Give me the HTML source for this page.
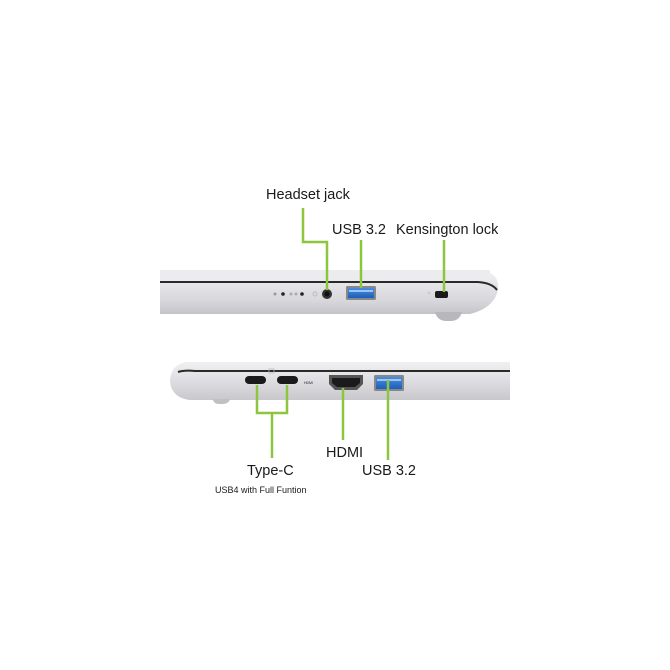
<!DOCTYPE html>
<html><head><meta charset="utf-8"><style>
html,body{margin:0;padding:0;background:#fff;}
svg{display:block}
text{font-family:"Liberation Sans",sans-serif;fill:#1a1a1a}
</style></head><body>
<svg width="670" height="670" viewBox="0 0 670 670" xmlns="http://www.w3.org/2000/svg">
<defs>
<linearGradient id="body1" x1="0" y1="0" x2="0" y2="1">
<stop offset="0" stop-color="#f4f4f6"/><stop offset="0.35" stop-color="#e4e4e8"/><stop offset="0.7" stop-color="#d8d8dc"/><stop offset="1" stop-color="#c4c4c8"/>
</linearGradient>
<linearGradient id="body2" x1="0" y1="0" x2="0" y2="1">
<stop offset="0" stop-color="#f0f0f2"/><stop offset="0.5" stop-color="#dedee2"/><stop offset="1" stop-color="#c8c8cc"/>
</linearGradient>
<linearGradient id="usb" x1="0" y1="0" x2="0" y2="1">
<stop offset="0" stop-color="#4a8de0"/><stop offset="1" stop-color="#1d5fb8"/>
</linearGradient>
</defs>

<path d="M160 270 L480 270 Q500 272 498 290 Q494 308 470 314 L160 314 Z" fill="url(#body1)"/>
<rect x="160" y="270" width="330" height="11" fill="#ececef"/>
<path d="M160 282 L478 282 Q492 283 497 290" stroke="#2a2a2a" stroke-width="2" fill="none"/>
<path d="M435 312 L462 312 Q460 320 452 321 L445 321 Q437 320 435 312Z" fill="#b8b8bc"/>
<circle cx="275" cy="294" r="1.5" fill="#999"/><circle cx="283" cy="294" r="1.8" fill="#222"/>
<circle cx="291" cy="294" r="1.5" fill="#aaa"/><circle cx="296" cy="294" r="1.5" fill="#aaa"/>
<circle cx="302" cy="294" r="1.8" fill="#222"/>
<circle cx="315" cy="294" r="2" fill="none" stroke="#bbb"/>
<circle cx="327" cy="294" r="5" fill="#333"/><circle cx="327" cy="294" r="2.5" fill="#111"/>
<rect x="346" y="286" width="30" height="14" rx="1.5" fill="#888"/>
<rect x="348" y="288" width="26" height="10" fill="url(#usb)"/>
<rect x="349" y="290" width="24" height="2" fill="#9cc4f0"/>
<rect x="435" y="291" width="13" height="7" rx="2" fill="#1a1a1a"/>
<circle cx="429" cy="293" r="1.5" fill="#ccc"/>

<g stroke="#8cc63f" stroke-width="2.5" fill="none">
<path d="M303 208 L303 242 L327 242 L327 290"/>
<path d="M361 240 L361 288"/>
<path d="M444 240 L444 292"/>
</g>
<text x="266" y="199" font-size="14.5">Headset jack</text>
<text x="332" y="234" font-size="14.5">USB 3.2</text>
<text x="396" y="234" font-size="14.5">Kensington lock</text>

<path d="M185 362 L510 362 L510 400 L190 400 Q172 398 170 382 Q170 366 185 362Z" fill="url(#body2)"/>
<path d="M178 372 Q184 370 195 371 L510 371" stroke="#2a2a2a" stroke-width="2" fill="none"/>
<path d="M213 399 L230 399 Q229 404 222 404 L218 404 Q213 403 213 399Z" fill="#c0c0c4"/>
<rect x="245" y="376" width="21" height="8" rx="4" fill="#1a1a1a"/>
<rect x="277" y="376" width="21" height="8" rx="4" fill="#1a1a1a"/>
<rect x="269" y="369" width="5" height="4" fill="none" stroke="#bbb" stroke-width="0.8"/>
<text x="304" y="384" font-size="3.5" fill="#aaa">HDMI</text>
<path d="M329 375 L363 375 L363 384 L357 390 L335 390 L329 384Z" fill="#555"/>
<path d="M332 378 L360 378 L360 383 L355 387 L337 387 L332 383Z" fill="#1a1a1a"/>
<rect x="374" y="375" width="30" height="16" rx="1.5" fill="#888"/>
<rect x="376" y="377" width="26" height="12" fill="url(#usb)"/>
<rect x="377" y="379" width="24" height="2" fill="#9cc4f0"/>

<g stroke="#8cc63f" stroke-width="2.5" fill="none">
<path d="M257 385 L257 413 L287 413 L287 385"/>
<path d="M272 413 L272 458"/>
<path d="M343 388 L343 440"/>
<path d="M388 380 L388 460"/>
</g>
<text x="326" y="457" font-size="14.5">HDMI</text>
<text x="247" y="475" font-size="14.5">Type-C</text>
<text x="362" y="475" font-size="14.5">USB 3.2</text>
<text x="215" y="493" font-size="9">USB4 with Full Funtion</text>
</svg>
</body></html>
